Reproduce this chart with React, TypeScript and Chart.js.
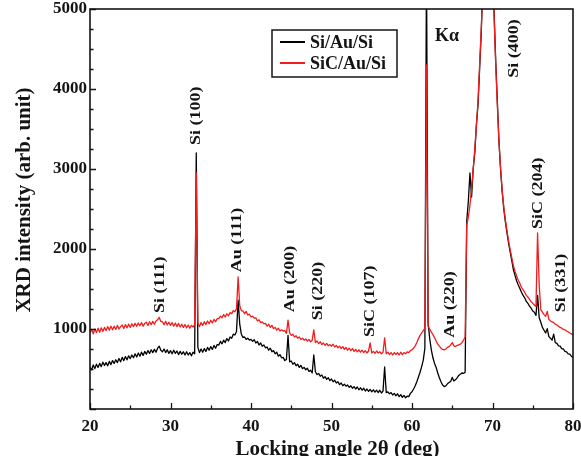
import { useEffect, useRef } from 'react';
import { Chart, registerables } from 'chart.js';

Chart.register(...registerables);

// Scan grid: 2θ from 20° to 80° in 0.2° steps (301 points per pattern)
const SCAN_START = 20;
const SCAN_STEP = 0.2;

// Si/Au/Si pattern, one row per degree (x.0, x.2, x.4, x.6, x.8)
const SI_AU_SI = [
  520, 490, 550, 505, 560,
  520, 570, 530, 585, 545,
  580, 540, 595, 555, 605,
  570, 615, 580, 630, 590,
  645, 605, 655, 615, 665,
  630, 675, 640, 690, 650,
  700, 660, 710, 670, 720,
  685, 730, 695, 740, 705,
  745, 710, 760, 785, 735,
  715, 750, 705, 740, 695,
  730, 690, 735, 695, 725,
  680, 720, 685, 715, 675,
  715, 675, 705, 665, 710,
  690, 3200, 770, 705, 750,
  710, 755, 720, 770, 735,
  780, 745, 795, 760, 805,
  800, 845, 815, 860, 830,
  880, 850, 900, 885, 935,
  925, 970, 1360, 1060, 935,
  895, 900, 870, 885, 860,
  870, 845, 865, 825, 845,
  800, 825, 785, 800, 765,
  775, 735, 760, 715, 730,
  690, 710, 660, 680, 640,
  645, 605, 620, 920, 590,
  600, 560, 580, 540, 560,
  520, 545, 505, 520, 490,
  510, 470, 485, 450, 675,
  465, 430, 445, 410, 425,
  385, 405, 370, 390, 355,
  375, 340, 360, 325, 340,
  305, 325, 290, 310, 285,
  300, 270, 290, 260, 280,
  250, 275, 240, 265, 235,
  260, 225, 250, 220, 245,
  215, 240, 210, 235, 205,
  235, 200, 225, 525, 205,
  215, 190, 205, 175, 195,
  165, 190, 155, 180, 145,
  170, 140, 160, 155, 195,
  215, 250, 290, 340, 400,
  460, 530, 610, 760, 5600,
  1080, 880, 740, 640, 570,
  520, 450, 390, 340, 300,
  280, 290, 315, 330, 345,
  395, 350, 365, 390, 420,
  435, 450, 445, 460, 2350,
  2600, 2950, 2650, 3000, 3200,
  3550, 3800, 4250, 4700, 5300,
  6300, 7300, 8200, 7800, 6800,
  5800, 4950, 4350, 3850, 3350,
  3000, 2720, 2500, 2340, 2200,
  2070, 1960, 1850, 1740, 1670,
  1600, 1550, 1505, 1460, 1420,
  1390, 1345, 1320, 1285, 1260,
  1225, 1210, 1170, 1420, 1140,
  1085, 1020, 985, 950, 1005,
  905, 885, 860, 935, 830,
  820, 790, 785, 755, 750,
  720, 715, 690, 685, 660,
  645,
];

// SiC/Au/Si pattern, same grid
const SIC_AU_SI = [
  955, 995, 940, 1000, 955,
  1010, 960, 1015, 970, 1020,
  980, 1030, 985, 1035, 990,
  1035, 995, 1045, 1000, 1030,
  1050, 1005, 1055, 1015, 1060,
  1020, 1065, 1030, 1070, 1035,
  1075, 1040, 1080, 1035, 1070,
  1085, 1045, 1090, 1055, 1095,
  1060, 1100, 1115, 1145, 1095,
  1090, 1055, 1095, 1050, 1085,
  1045, 1080, 1035, 1075, 1030,
  1070, 1025, 1060, 1020, 1055,
  1015, 1050, 1010, 1045, 1025,
  1055, 2950, 1070, 1030, 1080,
  1045, 1090, 1055, 1100, 1065,
  1110, 1075, 1120, 1090, 1130,
  1130, 1160, 1140, 1180, 1150,
  1190, 1165, 1205, 1190, 1230,
  1215, 1255, 1650, 1290, 1230,
  1225, 1190, 1220, 1175, 1185,
  1150, 1160, 1135, 1140, 1100,
  1115, 1080, 1090, 1065, 1070,
  1035, 1060, 1020, 1045, 1005,
  1020, 985, 1010, 975, 990,
  975, 980, 945, 1110, 950,
  920, 935, 900, 915, 885,
  900, 870, 885, 860, 875,
  850, 870, 840, 860, 990,
  830, 850, 815, 840, 805,
  825, 795, 820, 790, 805,
  785, 810, 775, 795, 765,
  785, 755, 780, 745, 770,
  735, 760, 730, 755, 720,
  745, 715, 740, 710, 735,
  705, 730, 700, 725, 825,
  700, 720, 695, 725, 700,
  715, 690, 710, 890, 690,
  710, 680, 705, 675, 705,
  680, 705, 675, 710, 680,
  705, 690, 715, 705, 730,
  740, 760, 790, 830, 880,
  920, 950, 980, 1010, 4300,
  1030, 1000, 960, 930, 890,
  850, 810, 785, 760, 745,
  740, 750, 770, 780, 800,
  830, 790, 780, 795, 800,
  810, 830, 860, 900, 2300,
  2400, 2550, 2750, 3000, 3250,
  3550, 3850, 4300, 4750, 5300,
  6200, 7200, 8000, 7600, 6700,
  5700, 4900, 4300, 3800, 3350,
  3020, 2730, 2530, 2360, 2230,
  2100, 1990, 1890, 1790, 1720,
  1660, 1610, 1570, 1520, 1490,
  1460, 1420, 1400, 1370, 1340,
  1320, 1300, 1280, 2200, 1550,
  1240, 1210, 1180, 1160, 1220,
  1120, 1100, 1090, 1080, 1060,
  1050, 1035, 1020, 1010, 995,
  990, 975, 965, 950, 940,
  925,
];

const SERIES_NAMES = ['Si/Au/Si', 'SiC/Au/Si'];
const SERIES_COLORS = ['#000000', '#f21c1c'];

// Axis ranges and tick spacing
const X_MIN = 20, X_MAX = 80, X_MAJOR = 10, X_MINOR = 5;
const Y_MIN = 0, Y_MAX = 5000, Y_MAJOR = 1000, Y_MINOR = 250;

const X_TITLE = 'Locking angle 2θ (deg)';
const Y_TITLE = 'XRD intensity (arb. unit)';

// Reflection labels: text, anchor angle, anchor intensity (bottom of the vertical text)
const PEAK_LABELS: [string, number, number][] = [
  ['Si (111)', 28.7, 1200],
  ['Si (100)', 33.2, 3300],
  ['Au (111)', 38.3, 1710],
  ['Au (200)', 44.8, 1210],
  ['Si (220)', 48.3, 1110],
  ['SiC (107)', 54.8, 900],
  ['Au (220)', 64.7, 890],
  ['Si (400)', 72.7, 4140],
  ['SiC (204)', 75.65, 2250],
  ['Si (331)', 78.5, 1210],
];
const K_ALPHA: [string, number, number] = ['Kα', 64.35, 4660];

const SERIF = '"Liberation Serif", "Times New Roman", serif';
const INK = '#141414';

const angles = SI_AU_SI.map((_, i) => +(SCAN_START + i * SCAN_STEP).toFixed(1));

const decorPlugin = {
  id: 'decor',
  afterDatasetsDraw(chart: any) {
    const { ctx, chartArea: a, scales } = chart;
    const xs = scales.x;
    const ys = scales.y;
    ctx.save();

    // plot frame
    ctx.strokeStyle = INK;
    ctx.lineWidth = 1.6;
    ctx.strokeRect(a.left, a.top, a.right - a.left, a.bottom - a.top);

    // inward ticks on bottom and left axes
    ctx.lineWidth = 1.3;
    ctx.beginPath();
    for (let v = X_MIN; v <= X_MAX; v += X_MINOR) {
      const px = Math.round(xs.getPixelForValue(v)) + 0.5;
      const len = v % X_MAJOR === 0 ? 6 : 3.5;
      ctx.moveTo(px, a.bottom);
      ctx.lineTo(px, a.bottom - len);
    }
    for (let v = Y_MIN; v <= Y_MAX; v += Y_MINOR) {
      const py = Math.round(ys.getPixelForValue(v)) + 0.5;
      const len = v % Y_MAJOR === 0 ? 6 : 3.5;
      ctx.moveTo(a.left, py);
      ctx.lineTo(a.left + len, py);
    }
    ctx.stroke();

    // reflection labels, reading bottom to top
    ctx.fillStyle = INK;
    ctx.font = `bold 15px ${SERIF}`;
    ctx.textAlign = 'left';
    ctx.textBaseline = 'middle';
    for (const [text, ang, val] of PEAK_LABELS) {
      const px = xs.getPixelForValue(ang);
      const py = ys.getPixelForValue(val);
      ctx.save();
      ctx.translate(px, py);
      ctx.rotate(-Math.PI / 2);
      ctx.scale(1.2, 1);
      ctx.fillText(text, 0, 0);
      ctx.restore();
    }

    // K-alpha marker
    ctx.font = `bold 18px ${SERIF}`;
    ctx.textAlign = 'center';
    ctx.fillText(K_ALPHA[0], xs.getPixelForValue(K_ALPHA[1]), ys.getPixelForValue(K_ALPHA[2]));

    // legend
    const lx = 272, ly = 30, lw = 125, lh = 47;
    ctx.fillStyle = '#ffffff';
    ctx.fillRect(lx, ly, lw, lh);
    ctx.strokeStyle = INK;
    ctx.lineWidth = 1.5;
    ctx.strokeRect(lx, ly, lw, lh);
    ctx.font = `bold 18px ${SERIF}`;
    ctx.textAlign = 'left';
    ctx.textBaseline = 'middle';
    SERIES_NAMES.forEach((name, i) => {
      const y = ly + 12 + i * 21;
      ctx.strokeStyle = SERIES_COLORS[i];
      ctx.lineWidth = 2;
      ctx.beginPath();
      ctx.moveTo(lx + 8, y);
      ctx.lineTo(lx + 33, y);
      ctx.stroke();
      ctx.fillStyle = INK;
      ctx.fillText(name, lx + 38, y + 1);
    });

    // axis titles
    ctx.font = `bold 21px ${SERIF}`;
    ctx.fillStyle = INK;
    ctx.textAlign = 'center';
    ctx.textBaseline = 'alphabetic';
    ctx.fillText(X_TITLE, 337.5, 455);
    ctx.save();
    ctx.translate(25, 200);
    ctx.rotate(-Math.PI / 2);
    ctx.textBaseline = 'middle';
    ctx.fillText(Y_TITLE, 0, 0);
    ctx.restore();

    ctx.restore();
  },
};

export default function App() {
  const canvasRef = useRef<HTMLCanvasElement | null>(null);

  useEffect(() => {
    const canvas = canvasRef.current;
    if (!canvas) return;
    const toPoints = (vals: number[]) => vals.map((v, i) => ({ x: angles[i], y: v }));
    const chart = new Chart(canvas, {
      type: 'line',
      data: {
        datasets: [
          {
            label: SERIES_NAMES[0],
            data: toPoints(SI_AU_SI),
            borderColor: SERIES_COLORS[0],
            borderWidth: 1.3,
            pointRadius: 0,
            tension: 0,
            borderJoinStyle: 'round',
            order: 1,
          },
          {
            label: SERIES_NAMES[1],
            data: toPoints(SIC_AU_SI),
            borderColor: SERIES_COLORS[1],
            borderWidth: 1.3,
            pointRadius: 0,
            tension: 0,
            borderJoinStyle: 'round',
            order: 0,
          },
        ],
      },
      plugins: [decorPlugin],
      options: {
        responsive: false,
        devicePixelRatio: 1,
        animation: false,
        layout: { padding: { top: 9, right: 8, left: 0, bottom: 0 } },
        plugins: { legend: { display: false }, tooltip: { enabled: false } },
        scales: {
          x: {
            type: 'linear',
            min: X_MIN,
            max: X_MAX,
            grid: { display: false, drawTicks: false },
            border: { display: false },
            ticks: {
              stepSize: X_MAJOR,
              padding: 7,
              color: INK,
              font: { family: SERIF, size: 17, weight: 'bold' },
            },
            afterFit(scale: any) {
              scale.height = 47;
              scale.paddingLeft = 0;
              scale.paddingRight = 0;
            },
          },
          y: {
            min: Y_MIN,
            max: Y_MAX,
            grid: { display: false, drawTicks: false },
            border: { display: false },
            ticks: {
              stepSize: Y_MAJOR,
              padding: 3,
              color: INK,
              font: { family: SERIF, size: 17, weight: 'bold' },
              callback: (v: any) => (v === 0 ? '' : String(v)),
            },
            afterFit(scale: any) {
              scale.width = 90;
              scale.paddingTop = 0;
              scale.paddingBottom = 0;
            },
          },
        },
      },
    } as any);
    return () => chart.destroy();
  }, []);

  return (
    <div style={{ position: 'fixed', left: 0, top: 0, width: 581, height: 456, background: '#ffffff', overflow: 'hidden' }}>
      <canvas ref={canvasRef} width={581} height={456} style={{ display: 'block' }} />
    </div>
  );
}
